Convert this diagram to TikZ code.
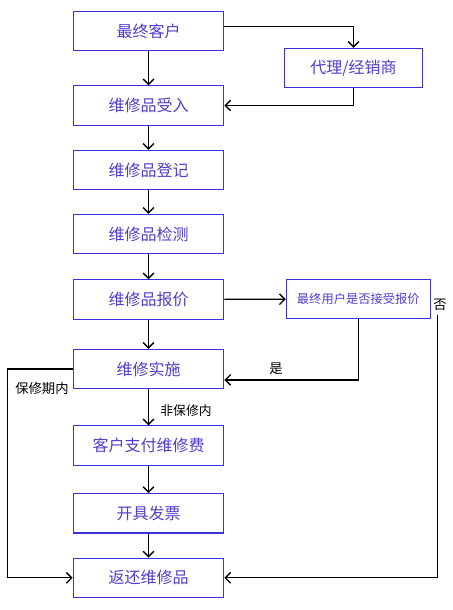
\documentclass[tikz,border=0pt]{standalone}
\usepackage{fontspec}
\newfontfamily\cjk{Noto Sans CJK SC}
\usetikzlibrary{arrows.meta}
\definecolor{boxblue}{RGB}{55,50,220}
\definecolor{txtblue}{RGB}{80,60,205}
\tikzset{
  stepbox/.style={draw=boxblue,line width=0.8pt,minimum width=113pt,minimum height=29.5pt,
    text=txtblue,font=\cjk\fontsize{12pt}{14pt}\selectfont,inner sep=0pt},
  flow/.style={->,line width=1pt},
  lbl/.style={font=\cjk\fontsize{10pt}{12pt}\selectfont,inner sep=0pt}
}
\begin{document}
\begin{tikzpicture}[>={Straight Barb[length=4pt,width=8pt]},x=0.75pt,y=-0.75pt]
		\useasboundingbox (0,0) rectangle (453,610);
		% main column
		\node[stepbox] (kehu) at (148.5,31) {最终客户};
		\node[stepbox,minimum width=103pt] (daili) at (353.5,68) {代理/经销商};
		\node[stepbox] (shouru) at (148.5,105.5) {维修品受入};
		\node[stepbox] (dengji) at (148.5,170) {维修品登记};
		\node[stepbox] (jiance) at (148.5,234) {维修品检测};
		\node[stepbox] (baojia) at (148.5,299.5) {维修品报价};
		\node[stepbox,minimum width=108pt,font=\cjk\fontsize{9.2pt}{11pt}\selectfont] (panduan) at (358.3,299) {最终用户是否接受报价};
		\node[stepbox] (shishi) at (148.5,369) {维修实施};
		\node[stepbox] (zhifu) at (148.5,445.5) {客户支付维修费};
		\node[stepbox] (fapiao) at (148.5,513.3) {开具发票};
		\node[stepbox] (fanhuan) at (148.5,577.8) {返还维修品};
		% labels
		\node[lbl] (fou) at (440,305) {否};
		\node[lbl] (shi) at (276,369) {是};
		\node[lbl] (baoxiu) at (42,388.5) {保修期内};
		\node[lbl,font=\cjk\fontsize{9.6pt}{11pt}\selectfont] (feibaoxiu) at (186,410.5) {非保修内};
		\coordinate (lt) at (7.7,577.8);
		\coordinate (rt) at (437.7,577.8);
		% connectors
		\draw[flow] (kehu) -- (shouru);
		\draw[flow] ([yshift=3.2pt]kehu.east) -| (daili.north);
		\draw[flow] (daili.south) |- (shouru.east);
		\draw[flow] (shouru) -- (dengji);
		\draw[flow] (dengji) -- (jiance);
		\draw[flow] (jiance) -- (baojia);
		\draw[flow] (baojia) -- (panduan);
		\draw[flow] (baojia) -- (shishi);
		\draw[flow] (panduan.south) |- ([yshift=-8.2pt]shishi.east);
		\draw[flow] (shishi) -- (zhifu);
		\draw[flow] (zhifu) -- (fapiao);
		\draw[flow] (fapiao) -- (fanhuan);
		\draw[flow] (shishi.west) -| (lt) -- (fanhuan.west);
		\draw[flow] ([yshift=-3pt]rt |- fou.south) -- (rt) -- (fanhuan.east);
\end{tikzpicture}
\end{document}
